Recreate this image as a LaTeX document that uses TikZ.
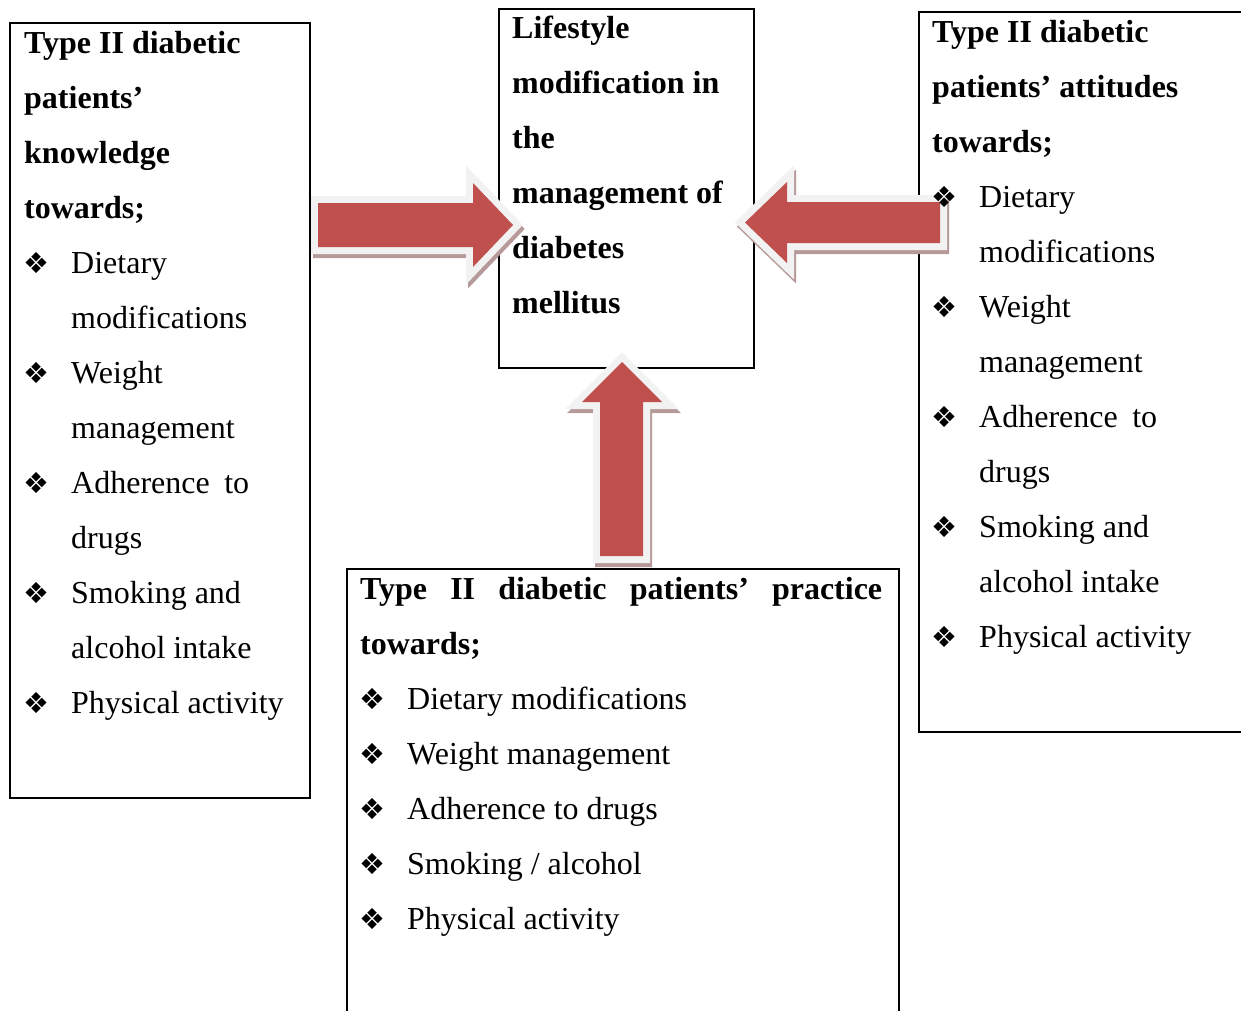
\documentclass[tikz,border=0pt]{standalone}
\usepackage{fontspec}
\setmainfont{Liberation Serif}
\newfontfamily\dingfont{DejaVu Sans}
\definecolor{arrowred}{HTML}{C0504D}
\definecolor{arrowrim}{HTML}{F2F2F2}
\definecolor{arrowshadow}{HTML}{B69999}
\newcommand{\bul}{\makebox[47pt][l]{\hspace*{-1pt}\dingfont\fontsize{29}{55}\selectfont ❖}}
\newcommand{\ind}{\hspace*{47pt}}
\tikzset{
  boxstyle/.style={draw=black, line width=2.2pt, inner sep=0pt, anchor=north west},
  txt/.style={inner sep=0pt, anchor=base west, font=\fontsize{32}{55}\selectfont},
  rimline/.style={draw=arrowrim, line width=14pt, line join=miter},
  shadowline/.style={draw=arrowshadow, fill=arrowshadow, line width=14pt, line join=miter},
  redfill/.style={fill=arrowred}
}
\begin{document}
\begin{tikzpicture}[x=1pt,y=-1pt]
\useasboundingbox (0,0) rectangle (1241,1010);
\clip (0,0) rectangle (1241,1010);
% boxes
\node[boxstyle, minimum width=300pt, minimum height=775pt] (leftbox) at (9,22) {};
\node[boxstyle, minimum width=255pt, minimum height=359pt] (centerbox) at (498,8) {};
\node[boxstyle, minimum width=360pt, minimum height=720pt] (rightbox) at (918,11) {};
\node[boxstyle, minimum width=552pt, minimum height=480pt] (bottombox) at (346,568) {};
% arrows: shadows
\begin{scope}[shift={(2,4)}]
\path[shadowline] (318,203) -- (473,203) -- (473,183) -- (513,225) -- (473,267) -- (473,247) -- (318,247) -- cycle;
\path[shadowline] (940,202) -- (787,202) -- (787,182) -- (745,222.5) -- (787,263) -- (787,243) -- (940,243) -- cycle;
\path[shadowline] (600,556) -- (600,402) -- (582,402) -- (622,362) -- (662,402) -- (643,402) -- (643,556) -- cycle;
\end{scope}
% arrows: rims and fills
\path[rimline] (318,203) -- (473,203) -- (473,183) -- (513,225) -- (473,267) -- (473,247) -- (318,247) -- cycle;
\path[redfill] (318,203) -- (473,203) -- (473,183) -- (513,225) -- (473,267) -- (473,247) -- (318,247) -- cycle;
\path[rimline] (940,202) -- (787,202) -- (787,182) -- (745,222.5) -- (787,263) -- (787,243) -- (940,243) -- cycle;
\path[redfill] (940,202) -- (787,202) -- (787,182) -- (745,222.5) -- (787,263) -- (787,243) -- (940,243) -- cycle;
\path[rimline] (600,556) -- (600,402) -- (582,402) -- (622,362) -- (662,402) -- (643,402) -- (643,556) -- cycle;
\path[redfill] (600,556) -- (600,402) -- (582,402) -- (622,362) -- (662,402) -- (643,402) -- (643,556) -- cycle;
% texts
\node[txt] (lefttext) at (24,53) {\parbox[t]{280pt}{\raggedright
\textbf{Type II diabetic}\\
\textbf{patients’}\\
\textbf{knowledge}\\
\textbf{towards;}\\
\bul Dietary\\
\ind modifications\\
\bul Weight\\
\ind management\\
\bul \makebox[178pt][s]{Adherence to}\\
\ind drugs\\
\bul Smoking and\\
\ind alcohol intake\\
\bul Physical activity}};
\node[txt] (centertext) at (512,38) {\parbox[t]{235pt}{\raggedright\bfseries
Lifestyle\\
modification in\\
the\\
management of\\
diabetes\\
mellitus}};
\node[txt] (righttext) at (932,42) {\parbox[t]{300pt}{\raggedright
\textbf{Type II diabetic}\\
\textbf{patients’ attitudes}\\
\textbf{towards;}\\
\bul Dietary\\
\ind modifications\\
\bul Weight\\
\ind management\\
\bul \makebox[178pt][s]{Adherence to}\\
\ind drugs\\
\bul Smoking and\\
\ind alcohol intake\\
\bul Physical activity}};
\node[txt] (bottomtext) at (360,599) {\parbox[t]{530pt}{\raggedright
\textbf{\makebox[522pt][s]{Type II diabetic patients’ practice}}\\
\textbf{towards;}\\
\bul Dietary modifications\\
\bul Weight management\\
\bul Adherence to drugs\\
\bul Smoking / alcohol\\
\bul Physical activity}};
\end{tikzpicture}
\end{document}
